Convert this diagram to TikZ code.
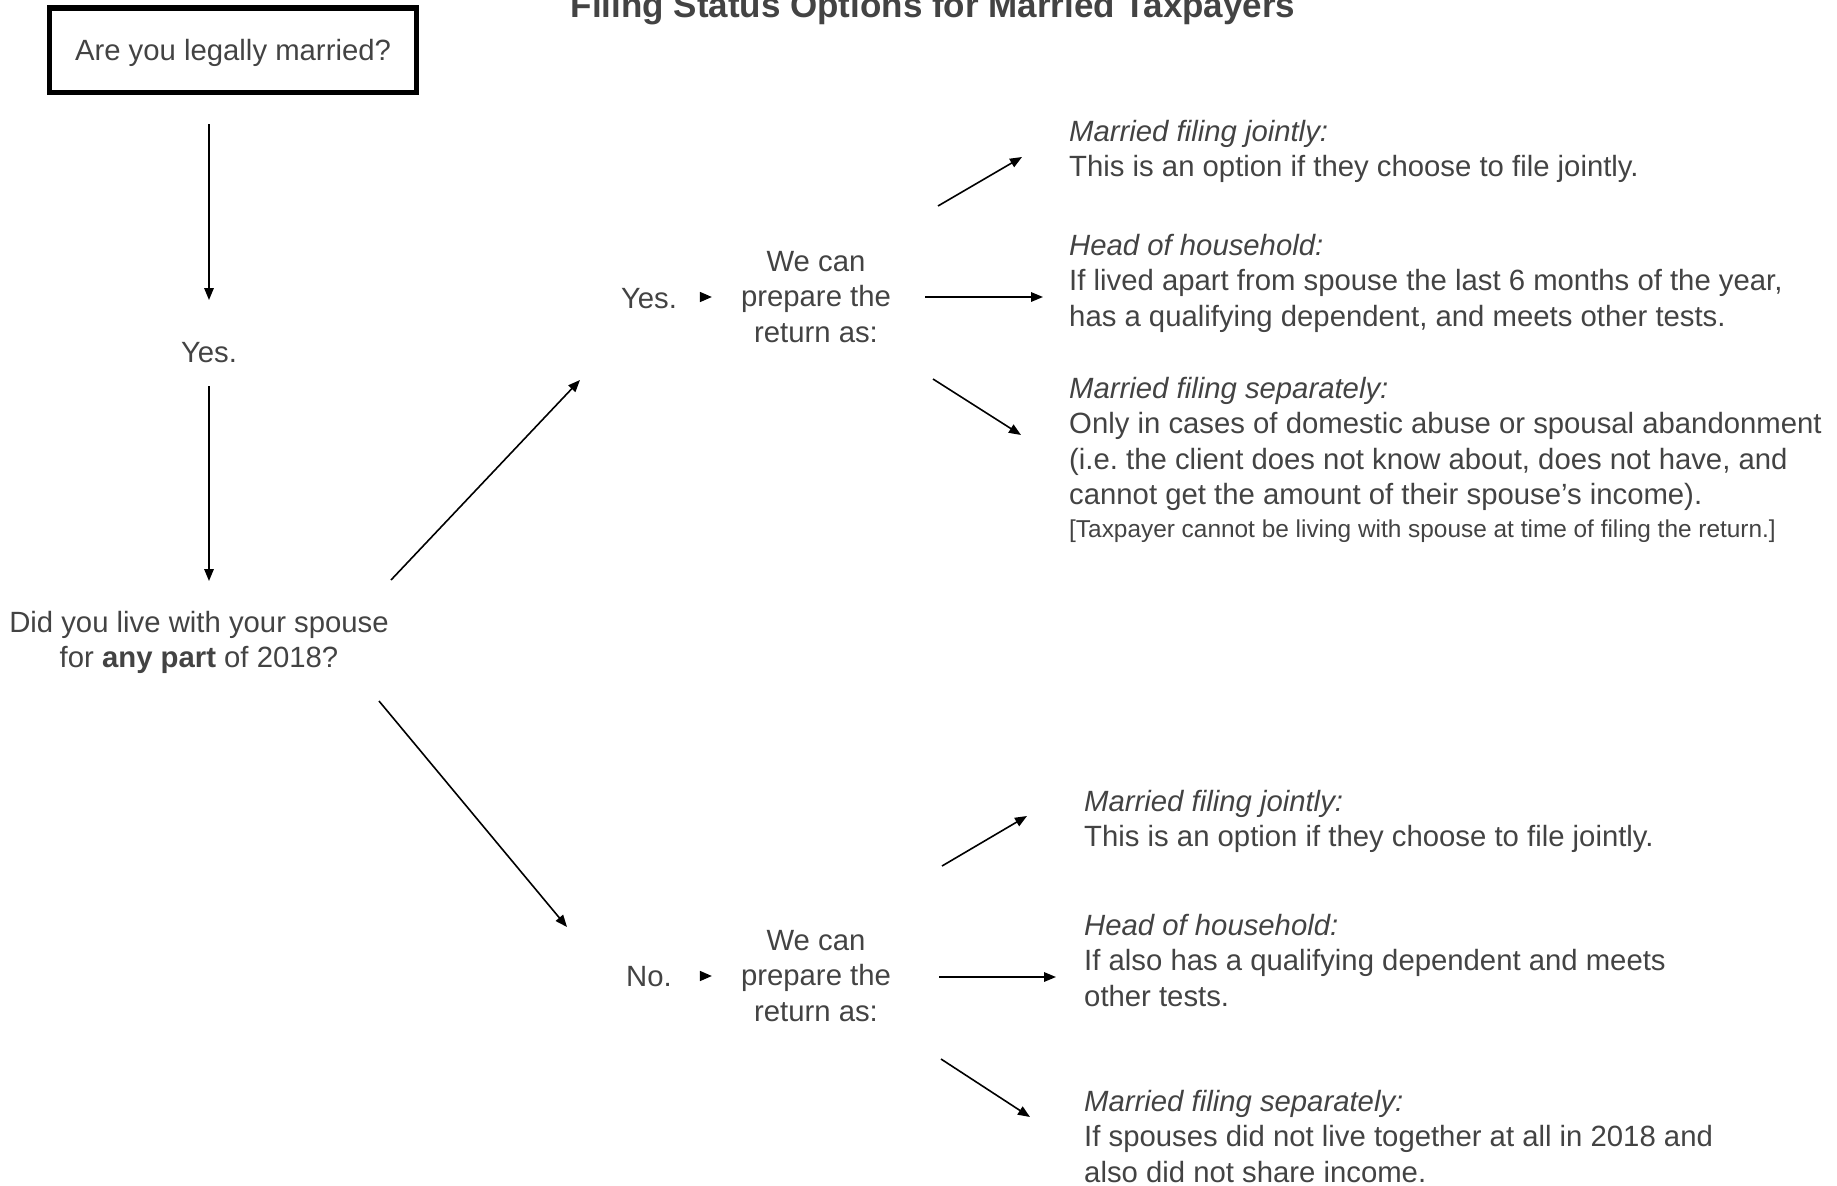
\documentclass[tikz,border=0pt]{standalone}
\usepackage{fontspec}
\setmainfont{Liberation Sans}
\usepackage{tikz}
\usetikzlibrary{arrows.meta}
\usetikzlibrary{calc}
\definecolor{txtgray}{HTML}{434343}
\frenchspacing

\begin{document}
\begin{tikzpicture}[x=1pt, y=-1pt,
		every node/.style={text=txtgray, inner sep=0pt, font=\fontsize{29.3}{35.5}\selectfont},
		lbl/.style={anchor=base},
		blk/.style={anchor=base west, align=left},
		ret/.style={anchor=base, align=center},
		arr/.style={-{Triangle[length=12pt,width=9.5pt]}, line width=1.6pt}]
		\useasboundingbox (0,0) rectangle (1837,1186);
		\node[lbl, font=\fontsize{35}{42}\selectfont\bfseries] (title) at (933,17) {Filing Status Options for Married Taxpayers};
		\node[draw=black, line width=5.5pt, minimum width=367pt, minimum height=84.5pt, text height=20.8pt, text depth=0pt] (married) at (233,50) {Are you legally married?};
		\node[lbl] (yesA) at (209,362) {Yes.};
		\node[ret] (live) at (199,667.5) {Did you live with your spouse\\for \textbf{any part} of 2018?};
		% lived together
		\node[lbl] (yesB) at (649,308) {Yes.};
		\node[ret] (retB) at (816,342) {We can\\prepare the\\return as:};
		\node[blk] (jointB) at (1069,176.5) {\textit{Married filing jointly:}\\This is an option if they choose to file jointly.};
		\node[blk] (headB) at (1069,326) {\textit{Head of household:}\\If lived apart from spouse the last 6 months of the year,\\has a qualifying dependent, and meets other tests.};
		\node[blk] (sepB) at (1069,504.5) {\textit{Married filing separately:}\\Only in cases of domestic abuse or spousal abandonment\\(i.e. the client does not know about, does not have, and\\cannot get the amount of their spouse's income).};
		\node[blk, font=\fontsize{24.4}{30}\selectfont] (noteB) at (1069,537) {[Taxpayer cannot be living with spouse at time of filing the return.]};
		% did not live together
		\node[lbl] (noC) at (649,986) {No.};
		\node[ret] (retC) at (816,1021) {We can\\prepare the\\return as:};
		\node[blk] (jointC) at (1084,846.5) {\textit{Married filing jointly:}\\This is an option if they choose to file jointly.};
		\node[blk] (headC) at (1084,1006) {\textit{Head of household:}\\If also has a qualifying dependent and meets\\other tests.};
		\node[blk] (sepC) at (1084,1182) {\textit{Married filing separately:}\\If spouses did not live together at all in 2018 and\\also did not share income.};
		% arrow ends
		\coordinate (m1) at (209,124);	\coordinate (m2) at (209,300);
		\coordinate (y1) at (209,386);	\coordinate (y2) at (209,581);
		\coordinate (l1) at (391,580);	\coordinate (l2) at (580,380);
		\coordinate (l3) at (379,701);	\coordinate (l4) at (567,927);
		\coordinate (b1) at (938,206);	\coordinate (b2) at (1022,157);
		\coordinate (b3) at (925,297);	\coordinate (b4) at (1043,297);
		\coordinate (b5) at (933,379);	\coordinate (b6) at (1021,435);
		\coordinate (c1) at (942,866);	\coordinate (c2) at (1027,816);
		\coordinate (c3) at (939,977);	\coordinate (c4) at (1056,977);
		\coordinate (c5) at (941,1059);	\coordinate (c6) at (1030,1117);
		\path[arr]
		(m1) edge (m2)
		(y1) edge (y2)
		(l1) edge (l2)
		(l3) edge (l4)
		(b1) edge (b2)
		(b3) edge (b4)
		(b5) edge (b6)
		(c1) edge (c2)
		(c3) edge (c4)
		(c5) edge (c6);
		\path[-{Triangle[length=12pt,width=10pt]}, line width=1.6pt]
		(yesB.east |- 0,297) edge [shorten <=24pt, shorten >=29pt] (retB.west |- 0,297)
		(noC.east |- 0,976) edge [shorten <=30pt, shorten >=29pt] (retC.west |- 0,976);
\end{tikzpicture}
\end{document}
